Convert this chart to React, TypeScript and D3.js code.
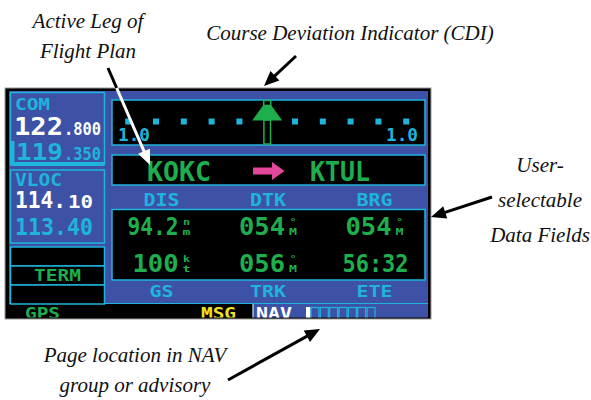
import React from "react";
import * as d3 from "d3";

// ---- data ----
const comActive = ["122", ".800"];
const comStandby = ["119", ".350"];
const navActive = ["114.", "10"];
const navStandby = ["113.40"];
const leftCells = ["", "TERM", ""];
const waypoints = ["KOKC", "KTUL"];
const cdiDots = [-5, -4, -3, -2, -1, 1, 2, 3, 4, 5];
const cdiScaleLabels = ["1.0", "1.0"];
const topLabels = ["DIS", "DTK", "BRG"];
const bottomLabels = ["GS", "TRK", "ETE"];
const row1Values = ["94.2", "054", "054"];
const row1Units = [["n", "m"], ["°", "M"], ["°", "M"]];
const row2Values = ["100", "056", "56:32"];
const row2Units = [["k", "t"], ["°", "M"], []];
const pageBoxes = [1, 2, 3, 4, 5, 6, 7];
const noteActiveLeg = ["Active Leg of", "Flight Plan"];
const noteCdi = ["Course Deviation Indicator (CDI)"];
const noteFields = ["User-", "selectable", "Data Fields"];
const notePage = ["Page location in NAV", "group or advisory"];

const BLUE = "#3d52a7";
const CYAN = "#1fb4dc";
const GREEN = "#1fae4e";
const MAGENTA = "#e2479b";
const YELLOW = "#f1e31f";
const LCD = "'DejaVu Sans Mono', monospace";
const NOTE = "'Liberation Serif', serif";

// width of a character run in the lcd font, roughly
const charW = (s: string, size: number) => s.length * size * 0.6;

function Lcd({ x, y, text, cap, fill, len, anchor = "start" }: any) {
  const size = cap / 0.73;
  return (
    <text
      x={x}
      y={y}
      fontFamily={LCD}
      fontWeight="bold"
      fontSize={size}
      fill={fill}
      textAnchor={anchor}
      textLength={len ?? charW(text, size)}
      lengthAdjust="spacingAndGlyphs"
    >
      {text}
    </text>
  );
}

function arrowHead(x1: number, y1: number, x2: number, y2: number, L = 15, W = 6.5) {
  const a = Math.atan2(y2 - y1, x2 - x1);
  const bx = x2 - L * Math.cos(a);
  const by = y2 - L * Math.sin(a);
  const px = -Math.sin(a) * W;
  const py = Math.cos(a) * W;
  return `M${x2},${y2}L${bx + px},${by + py}L${bx - px},${by - py}Z`;
}

function Arrow({ x1, y1, x2, y2, color = "#000" }: any) {
  const a = Math.atan2(y2 - y1, x2 - x1);
  const ex = x2 - 10 * Math.cos(a);
  const ey = y2 - 10 * Math.sin(a);
  return (
    <g>
      <line x1={x1} y1={y1} x2={ex} y2={ey} stroke={color} strokeWidth={3} />
      <path d={arrowHead(x1, y1, x2, y2)} fill={color} />
    </g>
  );
}

function Note({ lines, x, y, step }: any) {
  return (
    <g fontFamily={NOTE} fontStyle="italic" fontSize={21} fill="#111" textAnchor="middle">
      {lines.map((l: string, i: number) => (
        <text key={i} x={x} y={y + i * step}>
          {l}
        </text>
      ))}
    </g>
  );
}

export default function App() {
  // column centres of the data fields
  const col = d3.scalePoint<string>().domain(["0", "1", "2"]).range([161.5, 374.5]);
  // CDI dots
  const cdi = d3.scaleLinear().domain([-5, 5]).range([128.2, 406.2]);
  const cdiC = cdi(0);
  // left cells
  const cellY = d3.scaleBand<number>().domain([0, 1, 2]).range([247, 304]);
  // page indicator boxes
  const pageX = d3.scaleBand<number>().domain(pageBoxes).range([311, 375]).paddingInner(0.15);

  const legX1 = 108, legY1 = 68, legX2 = 150, legY2 = 165;
  const tFrame = (88 - legY1) / (legY2 - legY1);
  const legXf = legX1 + (legX2 - legX1) * tFrame;

  return (
    <svg width={591} height={400} style={{ position: "absolute", left: 0, top: 0, background: "#fff" }}>
      <defs>
        <clipPath id="scr">
          <rect x={5} y={88} width={426} height={229.5} />
        </clipPath>
      </defs>

      {/* frame */}
      <rect x={5} y={88} width={426} height={231} fill="#000" stroke="#999" strokeWidth={1} />
      <g clipPath="url(#scr)">
        <rect x={9} y={91} width={419} height={213} fill={BLUE} />
        <rect x={253} y={304} width={175} height={15} fill={BLUE} />
        <line x1={9} x2={428} y1={303.5} y2={303.5} stroke={CYAN} strokeWidth={1.2} />
        <line x1={253} x2={253} y1={304} y2={319} stroke="#bfe8f5" strokeWidth={1.2} />

        {/* COM box */}
        <rect x={10.5} y={92.5} width={94} height={72} fill="none" stroke={CYAN} strokeWidth={1.5} />
        <rect x={10.5} y={162} width={94} height={4} fill={CYAN} />
        <rect x={10.5} y={141} width={4} height={22} fill={CYAN} />
        <Lcd x={15} y={110} text="COM" cap={12} fill={CYAN} len={35} />
        <Lcd x={14} y={135} text={comActive[0]} cap={18} fill="#fff" len={49} />
        <Lcd x={64} y={135} text={comActive[1]} cap={13} fill="#fff" len={37} />
        <Lcd x={16} y={160} text={comStandby[0]} cap={17} fill={CYAN} len={47} />
        <Lcd x={64} y={160} text={comStandby[1]} cap={13} fill={CYAN} len={37} />

        {/* VLOC box */}
        <rect x={10.5} y={170} width={94} height={73} fill="none" stroke={CYAN} strokeWidth={1.5} />
        <Lcd x={15} y={186} text="VLOC" cap={13} fill={CYAN} len={47} />
        <Lcd x={15} y={208} text={navActive[0]} cap={16.7} fill="#fff" len={51} />
        <Lcd x={68} y={208} text={navActive[1]} cap={12.3} fill="#fff" len={25} />
        <Lcd x={15} y={235} text={navStandby[0]} cap={16.7} fill={CYAN} len={78} />

        {/* left cells */}
        {leftCells.map((c, i) => (
          <g key={i}>
            <rect x={10.5} y={cellY(i)!} width={94} height={cellY.bandwidth()} fill="#000" stroke={CYAN} strokeWidth={1.5} />
            {c && <Lcd x={57.5} y={cellY(i)! + cellY.bandwidth() / 2 + 5.5} text={c} cap={11} fill={GREEN} len={47} anchor="middle" />}
          </g>
        ))}

        {/* CDI */}
        <rect x={112} y={100} width={313} height={45} fill="#000" stroke={CYAN} strokeWidth={1.5} />
        {cdiDots.map((d) => (
          <rect key={d} x={cdi(d) - 3} y={118.5} width={6} height={6} fill={CYAN} />
        ))}
        <Lcd x={118} y={141} text={cdiScaleLabels[0]} cap={13} fill={CYAN} len={32} />
        <Lcd x={386} y={141} text={cdiScaleLabels[1]} cap={13} fill={CYAN} len={32} />
        <rect x={cdiC - 3.3} y={120} width={6.6} height={24} fill="#000" stroke={GREEN} strokeWidth={1.5} />
        <path
          d={`M${cdiC - 3.8},105L${cdiC + 3.8},105L${cdiC + 15},120.5L${cdiC - 15},120.5Z`}
          fill={GREEN}
        />
        <rect x={cdiC - 3.5} y={100.5} width={7} height={5} fill="#000" stroke={GREEN} strokeWidth={1.5} />

        {/* active leg */}
        <rect x={112} y={155} width={313} height={30} fill="#000" stroke={CYAN} strokeWidth={1.5} />
        <Lcd x={147} y={181} text={waypoints[0]} cap={20} fill={GREEN} len={64} />
        <Lcd x={310} y={181} text={waypoints[1]} cap={20} fill={GREEN} len={60} />
        <path d="M253,167.5L272,167.5L272,162L284.5,171L272,180L272,174.5L253,174.5Z" fill={MAGENTA} />

        {/* data fields */}
        {topLabels.map((l, i) => (
          <Lcd key={l} x={col(String(i))!} y={206} text={l} cap={13} fill={CYAN} len={l.length * 12} anchor="middle" />
        ))}
        <rect x={112} y={209.5} width={313} height={70.5} fill="#000" stroke={CYAN} strokeWidth={1.5} />
        {[row1Values, row2Values].map((row, r) => {
          const units = r === 0 ? row1Units : row2Units;
          const base = r === 0 ? 235 : 272;
          return row.map((v, i) => {
            const cx = col(String(i))!;
            const u = units[i];
            const len = v.length === 5 ? 66 : v.length === 4 ? 51 : 46;
            return (
              <g key={`${r}-${i}`}>
                {u.length ? (
                  <>
                    <Lcd x={cx + 17} y={base} text={v} cap={18} fill={GREEN} len={len} anchor="end" />
                    <Lcd x={cx + 25} y={base - 10} text={u[0]} cap={7} fill={GREEN} len={7} anchor="middle" />
                    <Lcd x={cx + 25} y={base} text={u[1]} cap={7} fill={GREEN} len={8} anchor="middle" />
                  </>
                ) : (
                  <Lcd x={cx + 1} y={base} text={v} cap={18} fill={GREEN} len={len} anchor="middle" />
                )}
              </g>
            );
          });
        })}
        {bottomLabels.map((l, i) => (
          <Lcd key={l} x={col(String(i))!} y={297} text={l} cap={12} fill={CYAN} len={l.length * 12} anchor="middle" />
        ))}

        {/* status bar */}
        <Lcd x={25} y={318.5} text="GPS" cap={11.5} fill={GREEN} len={35} />
        <Lcd x={201} y={318.5} text="MSG" cap={11.5} fill={YELLOW} len={35} />
        <Lcd x={256} y={318.5} text="NAV" cap={11.5} fill="#fff" len={36} />
        <rect x={306} y={307} width={4.5} height={12} fill="#fff" />
        {pageBoxes.map((b) => (
          <rect key={b} x={pageX(b)!} y={307.5} width={pageX.bandwidth()} height={12} fill="none" stroke={CYAN} strokeWidth={1.2} />
        ))}
      </g>

      {/* annotations */}
      <Note lines={noteActiveLeg} x={88} y={28} step={30} />
      <Note lines={noteCdi} x={350} y={40} step={30} />
      <Note lines={noteFields} x={540} y={172} step={35} />
      <Note lines={notePage} x={135} y={362} step={30} />

      <line x1={legX1} y1={legY1} x2={legXf} y2={88} stroke="#000" strokeWidth={3} />
      <Arrow x1={legXf} y1={88} x2={legX2} y2={legY2} color="#fff" />
      <Arrow x1={296} y1={56} x2={264} y2={86} />
      <Arrow x1={492} y1={197} x2={431} y2={217} />
      <Arrow x1={228} y1={380} x2={320} y2={329} />
    </svg>
  );
}
